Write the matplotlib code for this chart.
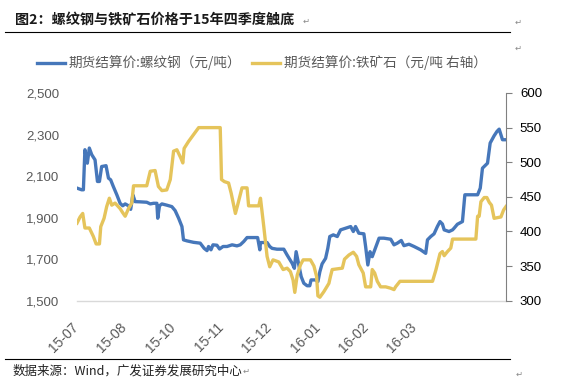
import matplotlib
matplotlib.use("Agg")
import matplotlib.pyplot as plt
from matplotlib.lines import Line2D
from matplotlib.transforms import ScaledTranslation

plt.rcParams['font.family'] = ['Noto Sans CJK SC', 'DejaVu Sans']

# ---- data (x = trading-day index) ----
rebar_x = [0, 2.1, 2.9, 3.6, 4.7, 5.6, 6.7, 8.2, 9.3, 10.2, 11.2, 13.2, 14.3, 15.3, 16.5, 18.1, 19.6,
           20.8, 21.9, 23.4, 24.4, 25.4, 26.4, 28.7, 31.7, 33.3, 34.8, 36.3, 36.7, 37.5, 38.6, 40.8,
           43.1, 44.6, 46.2, 47.7, 48.4, 50.0, 53.0, 56.0, 57.8, 59.1, 59.8, 60.9, 61.8, 63.6, 64.8,
           66.4, 68.2, 70.5, 72.7, 74.2, 75.8, 77.3, 80.3, 82.1, 83.1, 83.4, 86.4, 87.6, 88.7, 90.9,
           94.0, 95.5, 97.8, 98.8, 99.6, 100.8, 101.9, 103.1, 104.6, 105.8, 106.4, 108.4, 109.5, 110.4,
           111.4, 113.0, 114.0, 114.9, 116.5, 118.3, 119.8, 122.1, 124.4, 125.6, 126.6, 128.1, 130.4,
           131.2, 132.2, 133.2, 134.2, 137.3, 139.5, 142.6, 144.1, 145.6, 147.4, 148.6, 150.9, 153.2,
           156.2, 158.5, 159.3, 160.8, 162.3, 163.8, 165.0, 166.1, 166.9, 169.1, 170.7, 171.4, 172.9,
           175.2, 176.3, 179.0, 182.1, 183.3, 184.3, 186.6, 187.8, 189.6, 190.9, 191.9, 192.7, 193.4, 195.0]
rebar = [2042, 2034, 2034, 2227, 2162, 2235, 2203, 2178, 2074, 2074, 2146, 2150, 2090, 2082, 2050, 2010, 1969,
         1957, 1966, 1957, 1940, 2010, 1977, 1976, 1974, 1966, 1969, 1969, 1897, 1957, 1966, 1960,
         1953, 1934, 1897, 1857, 1793, 1788, 1781, 1777, 1752, 1741, 1761, 1745, 1769, 1767, 1749,
         1761, 1761, 1769, 1764, 1769, 1785, 1804, 1804, 1804, 1745, 1780, 1780, 1761, 1752, 1748,
         1748, 1720, 1680, 1656, 1736, 1672, 1616, 1584, 1572, 1572, 1600, 1600, 1592, 1640,
         1677, 1704, 1752, 1809, 1817, 1809, 1841, 1849, 1857, 1833, 1857, 1825, 1822,
         1760, 1672, 1736, 1712, 1801, 1801, 1796, 1769, 1777, 1790, 1765, 1772, 1761,
         1745, 1728, 1793, 1809, 1822, 1857, 1881, 1869, 1841, 1833, 1841, 1849, 1868,
         1881, 2010, 2010, 2010, 2042, 2138, 2162, 2259, 2294, 2315, 2326, 2299, 2275, 2275]

ore_x = [0, 1.4, 2.6, 3.6, 5.6, 7.4, 8.7, 10.2, 10.8, 12.3, 13.5, 14.7, 15.8, 17.3, 19.6, 20.8, 21.9,
         23.4, 24.9, 25.7, 31.7, 33.3, 35.5, 37.0, 38.6, 40.8, 42.4, 43.9, 45.4, 47.2, 48.1, 48.7,
         50.7, 53.0, 55.3, 65.1, 65.7, 67.0, 68.9, 70.1, 72.0, 73.0, 75.0, 77.3, 78.0, 82.6, 83.4,
         84.9, 86.4, 87.6, 89.1, 91.7, 93.7, 95.5, 97.0, 98.2, 99.0, 100.1, 101.6, 102.8, 106.1,
         107.7, 108.9, 109.5, 110.4, 112.2, 114.5, 115.2, 116.0, 120.6, 121.6, 123.6, 125.6, 127.1,
         128.1, 130.1, 131.2, 133.5, 134.2, 135.3, 136.5, 138.0, 140.3, 142.6, 144.1, 144.8, 146.8,
         161.6, 163.1, 165.0, 166.1, 166.9, 168.4, 169.9, 170.7, 181.3, 182.1, 182.8, 183.6, 185.1,
         186.3, 187.4, 188.4, 189.6, 192.7, 193.9, 195.0]
ore = [412, 421, 426, 405, 405, 393, 382, 382, 407, 419, 436, 448, 438, 441, 433, 427, 422,
       433, 441, 466, 466, 487, 488, 465, 459, 460, 475, 516, 518, 506, 499, 520,
       530, 540, 550, 550, 475, 472, 470, 455, 426, 438, 463, 463, 437, 437, 448,
       407, 364, 349, 359, 356, 345, 347, 342, 330, 312, 337, 352, 359, 359,
       350, 335, 307, 305, 313, 325, 335, 345, 347, 360, 366, 370, 364,
       352, 340, 320, 320, 345, 340, 328, 320, 320, 318, 316, 320, 328,
       328, 344, 368, 371, 365, 371, 376, 389, 389, 422, 422, 443, 449,
       449, 442, 438, 419, 421, 431, 436]

tick_pos = [0, 22, 44, 66, 88, 110, 132, 154]
tick_labels = ['15-07', '15-08', '15-10', '15-11', '15-12', '16-01', '16-02', '16-03']
left_ticks = [1500, 1700, 1900, 2100, 2300, 2500]
right_ticks = [300, 350, 400, 450, 500, 550, 600]

title = '图2：螺纹钢与铁矿石价格于15年四季度触底'
legend_labels = ['期货结算价:螺纹钢（元/吨）', '期货结算价:铁矿石（元/吨 右轴）']
source = '数据来源：Wind，广发证券发展研究中心'

BLUE = '#4677BA'
GOLD = '#E5C45B'
GRAY = '#595959'

fig = plt.figure(figsize=(5.75, 3.83), dpi=100)
ax = fig.add_axes([77/575, 1-300.7/383, (506-77)/575, (300.7-93)/383])
ax2 = ax.twinx()

ax.plot(rebar_x, rebar, color=BLUE, lw=2.4, solid_joinstyle='round')
ax2.plot(ore_x, ore, color=GOLD, lw=2.4, solid_joinstyle='round')

ax.set_xlim(0, 195)
ax.set_ylim(1500, 2500)
ax2.set_ylim(300, 600)

ax.set_yticks(left_ticks)
ax.set_yticklabels([f'{v:,}' for v in left_ticks], color=GRAY, fontsize=9.5, family='Liberation Sans')
ax.tick_params(axis='y', length=0, pad=13)
ax2.set_yticks(right_ticks)
ax2.set_yticklabels([str(v) for v in right_ticks], color='black', fontsize=9.5, family='Liberation Sans')
ax2.tick_params(axis='y', length=4, width=0.8, color='#808080', pad=6)

ax.set_xticks(tick_pos)
ax.set_xticklabels(tick_labels, rotation=45, ha='right', va='top', rotation_mode='anchor',
                   color=GRAY, fontsize=10, family='Liberation Sans')
ax.tick_params(axis='x', length=0, pad=14)
shift = ScaledTranslation(-6/100, 0, fig.dpi_scale_trans)
for lab in ax.get_xticklabels():
    lab.set_transform(lab.get_transform() + shift)

for a in (ax, ax2):
    for s in ('top', 'left', 'right'):
        a.spines[s].set_visible(False)
ax.spines['bottom'].set_color('#D9D9D9')
ax.spines['bottom'].set_linewidth(1.0)
ax2.spines['bottom'].set_visible(False)
ax2.spines['right'].set_visible(True)
ax2.spines['right'].set_color('#808080')
ax2.spines['right'].set_linewidth(0.8)

# title & rules
fig.text(15/575, 1-20/383, title, fontsize=10.2, fontweight='bold', color='#1a1a1a', va='center', ha='left')
fig.add_artist(Line2D([5/575, 510/575], [1-32/383, 1-32/383], color='black', lw=0.8))
fig.add_artist(Line2D([5/575, 510/575], [1-359/383, 1-359/383], color='black', lw=0.8))
fig.text(13/575, 1-371/383, source, fontsize=9, color='#222222', va='center', ha='left')

# paragraph marks (document artifacts)
for (px, py) in [(303, 21), (515, 22), (515, 48), (243, 371), (516, 374)]:
    fig.text(px/575, 1-py/383, '↵', fontsize=6, color='#888888', family='DejaVu Sans',
             va='center', ha='left')

# legend
handles = [Line2D([], [], color=BLUE, lw=2.4), Line2D([], [], color=GOLD, lw=2.4)]
fig.legend(handles, legend_labels, loc='center', bbox_to_anchor=(262/575, 1-63/383), ncol=2,
           frameon=False, fontsize=9.8, labelcolor=GRAY, handlelength=2.0, handletextpad=0.3,
           columnspacing=0.8)

fig.savefig('out.png', dpi=100)
